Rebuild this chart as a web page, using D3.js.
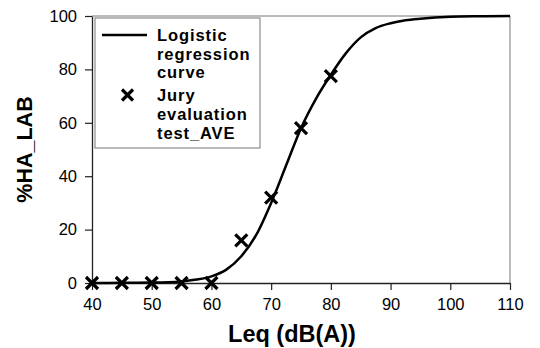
<!DOCTYPE html>
<html>
<head>
<meta charset="utf-8">
<script src="https://cdn.jsdelivr.net/npm/d3@7"></script>
<style>
  body { margin: 0; background: #fff; }
  svg { display: block; font-family: Arial, "Liberation Sans", sans-serif; }
</style>
</head>
<body>
<svg id="chart" width="540" height="348"></svg>
<script>
// jury evaluation points
const juryLeq = [40, 45, 50, 55, 60, 65, 70, 75, 80];
const juryHA = [0, 0, 0, 0, 0, 16, 32, 58, 77.5];

// logistic regression curve
const curveLeq = [40, 45, 50, 55, 57.5, 60, 62.5, 65, 67.5, 70, 72.5, 75, 77.5, 80, 82.5, 85, 87.5, 90, 92.5, 95, 100, 105, 110];
const curveHA = [0, 0.05, 0.15, 0.6, 1.3, 2.5, 5, 10, 18, 30, 44, 58, 69, 78, 86, 92, 95.5, 97.3, 98.4, 99, 99.7, 99.9, 100];

const xTicks = [40, 50, 60, 70, 80, 90, 100, 110];
const yTicks = [0, 20, 40, 60, 80, 100];

const svg = d3.select("#chart");

// plot area
const plotLeft = 92, plotRight = 510, plotTop = 16, plotBottom = 283;

const x = d3.scaleLinear().domain([40, 110]).range([plotLeft, plotRight]);
const y = d3.scaleLinear().domain([0, 100]).range([plotBottom, plotTop]);

// frame top/right
svg.append("path")
  .attr("d", `M${plotLeft},${plotTop}H${plotRight}V${plotBottom}`)
  .attr("fill", "none")
  .attr("stroke", "#777")
  .attr("stroke-width", 1);

// axes
const xAxis = svg.append("g")
  .attr("transform", `translate(0,${plotBottom})`)
  .call(d3.axisBottom(x).tickValues(xTicks).tickSize(7).tickSizeOuter(0).tickPadding(8));
const yAxis = svg.append("g")
  .attr("transform", `translate(${plotLeft},0)`)
  .call(d3.axisLeft(y).tickValues(yTicks).tickSize(7).tickSizeOuter(0).tickPadding(8));

[xAxis, yAxis].forEach(g => {
  g.select(".domain").attr("stroke", "#222").attr("stroke-width", 1.3);
  g.selectAll(".tick line").attr("stroke", "#222").attr("stroke-width", 1.2);
  g.selectAll(".tick text")
    .attr("fill", "#000")
    .style("font-size", "16.5px")
    .style("font-family", "Arial, 'Liberation Sans', sans-serif");
});

// curve
const line = d3.line()
  .x((d, i) => x(curveLeq[i]))
  .y(d => y(d))
  .curve(d3.curveMonotoneX);

svg.append("path")
  .datum(curveHA)
  .attr("d", line)
  .attr("fill", "none")
  .attr("stroke", "#000")
  .attr("stroke-width", 2.5);

// X markers
const drawCross = (g, cx, cy, s) => {
  g.append("path")
    .attr("d", `M${cx - s},${cy - s}L${cx + s},${cy + s}M${cx - s},${cy + s}L${cx + s},${cy - s}`)
    .attr("stroke", "#000")
    .attr("stroke-width", 3.2)
    .attr("fill", "none");
};

const marks = svg.append("g");
juryLeq.forEach((v, i) => drawCross(marks, x(v), y(juryHA[i]), 6));

// legend
const legend = svg.append("g");
legend.append("rect")
  .attr("x", 95).attr("y", 18)
  .attr("width", 165).attr("height", 130)
  .attr("fill", "#fff")
  .attr("stroke", "#777")
  .attr("stroke-width", 1);

legend.append("line")
  .attr("x1", 102).attr("x2", 147)
  .attr("y1", 35).attr("y2", 35)
  .attr("stroke", "#000")
  .attr("stroke-width", 2.5);
drawCross(legend, 127.5, 95, 5.5);

const legendLines = ["Logistic", "regression", "curve", "Jury", "evaluation", "test_AVE"];
legend.selectAll("text.lg")
  .data(legendLines)
  .join("text")
  .attr("class", "lg")
  .attr("x", 157)
  .attr("y", (d, i) => 41 + i * 18.6 + (i >= 3 ? 4.5 : 0))
  .attr("font-size", "16.5px")
  .attr("letter-spacing", "0.9px")
  .attr("font-weight", "bold")
  .text(d => d);

// axis titles
svg.append("text")
  .attr("x", 292)
  .attr("y", 342)
  .attr("text-anchor", "middle")
  .attr("font-size", "23.5px")
  .attr("font-weight", "bold")
  .text("Leq (dB(A))");

svg.append("text")
  .attr("transform", `translate(32,${(plotTop + plotBottom) / 2}) rotate(-90)`)
  .attr("text-anchor", "middle")
  .attr("font-size", "21.5px")
  .attr("font-weight", "bold")
  .text("%HA_LAB");
</script>
</body>
</html>
